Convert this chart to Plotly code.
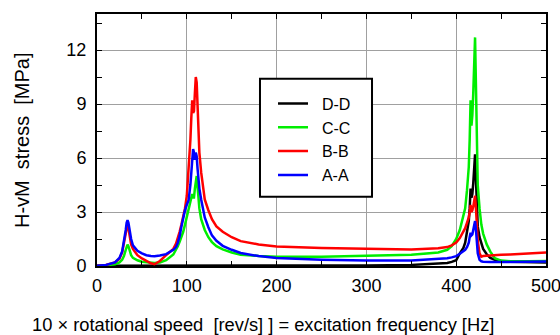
import plotly.graph_objects as go

# excitation frequency grid [Hz]
freq_hz = [0, 10, 20, 25, 28, 30, 32, 33, 34, 35,
           36, 38, 40, 45, 50, 55, 60, 64, 70, 77,
           85, 88, 90, 92, 94, 96, 98, 100, 102, 104,
           105, 106, 107, 108, 109, 110, 111, 112, 113, 114,
           116, 118, 120, 124, 128, 133, 140, 150, 160, 180,
           200, 250, 300, 350, 380, 390, 395, 400, 404, 408,
           410, 412, 414, 415, 416, 417, 418, 419, 420, 421,
           422, 423, 424, 426, 428, 430, 434, 438, 443, 450,
           460, 480, 500]

stress_dd = [0.01, 0.01, 0.01, 0.01, 0.02, 0.02, 0.02, 0.02, 0.02, 0.02,
             0.02, 0.02, 0.02, 0.01, 0.01, 0.01, 0.01, 0.01, 0.01, 0.01,
             0.01, 0.01, 0.02, 0.02, 0.02, 0.02, 0.02, 0.03, 0.03, 0.03,
             0.04, 0.04, 0.04, 0.04, 0.04, 0.05, 0.04, 0.04, 0.03, 0.03,
             0.03, 0.03, 0.02, 0.02, 0.02, 0.02, 0.02, 0.02, 0.02, 0.02,
             0.02, 0.02, 0.03, 0.06, 0.12, 0.17, 0.23, 0.32, 0.7, 1.0,
             1.3, 1.8, 2.5, 3.2, 4.3, 3.8, 4.0, 4.6, 5.3, 6.2,
             4.8, 3.3, 2.2, 1.6, 1.2, 0.95, 0.65, 0.45, 0.35, 0.28,
             0.24, 0.21, 0.2]

stress_cc = [0.01, 0.03, 0.1, 0.2, 0.35, 0.55, 0.9, 1.1, 1.19, 1.1,
             0.9, 0.6, 0.45, 0.32, 0.24, 0.2, 0.18, 0.17, 0.2, 0.32,
             0.64, 0.9, 1.1, 1.35, 1.6, 1.9, 2.3, 2.7, 3.1, 3.5,
             3.7, 4.0, 3.8, 3.8, 4.3, 4.8, 5.0, 4.4, 3.7, 3.2,
             2.6, 2.3, 2.0, 1.6, 1.33, 1.1, 0.92, 0.75, 0.63, 0.56,
             0.52, 0.52, 0.56, 0.62, 0.75, 0.9, 1.1, 1.5, 2.0, 2.7,
             3.2, 4.2, 5.5, 7.0, 9.2, 7.8, 8.4, 9.6, 11.5, 12.7,
             10.0, 7.0, 4.5, 3.2, 2.3, 1.8, 1.2, 0.8, 0.43, 0.3,
             0.27, 0.27, 0.28]

stress_bb = [0.02, 0.06, 0.2, 0.4, 0.75, 1.2, 1.8, 2.1, 2.25, 2.1,
             1.7, 1.2, 0.95, 0.6, 0.42, 0.28, 0.15, 0.1, 0.28, 0.6,
             0.95, 1.25, 1.55, 1.9, 2.3, 2.7, 3.2, 3.9, 5.3, 7.0,
             8.2, 9.2, 8.5, 8.6, 9.6, 10.5, 10.2, 8.6, 7.3, 6.3,
             5.2, 4.4, 3.7, 3.1, 2.6, 2.2, 1.9, 1.6, 1.38, 1.2,
             1.08, 1.0, 0.94, 0.92, 0.98, 1.05, 1.15, 1.3, 1.55, 1.9,
             2.1, 2.4, 2.7, 3.0, 3.4, 3.0, 3.1, 3.3, 3.6, 3.9,
             3.2, 2.2, 1.4, 0.7, 0.52, 0.55, 0.57, 0.58, 0.6, 0.62,
             0.64, 0.69, 0.75]

stress_aa = [0.02, 0.06, 0.2, 0.45, 0.8, 1.3, 2.0, 2.4, 2.54, 2.4,
             2.0, 1.5, 1.15, 0.85, 0.7, 0.6, 0.55, 0.54, 0.58, 0.66,
             0.9, 1.05, 1.3, 1.66, 2.2, 2.75, 3.1, 3.4, 3.65, 4.5,
             5.3, 6.0, 6.5, 6.3, 5.9, 6.3, 6.1, 5.4, 4.8, 4.3,
             3.7, 3.1, 2.7, 2.15, 1.7, 1.4, 1.12, 0.9, 0.72, 0.55,
             0.45, 0.35, 0.3, 0.3, 0.38, 0.43, 0.48, 0.55, 0.68, 0.8,
             0.9, 1.05, 1.3, 1.6, 1.85, 1.7, 1.75, 2.0, 2.3, 2.5,
             2.0, 1.2, 0.7, 0.35, 0.26, 0.24, 0.22, 0.22, 0.22, 0.22,
             0.22, 0.23, 0.25]

series_names = ["D-D", "C-C", "B-B", "A-A"]
series_values = [stress_dd, stress_cc, stress_bb, stress_aa]
series_colors = ["#000000", "#00ee00", "#ff0000", "#0000ff"]

x_ticks = [0, 100, 200, 300, 400, 500]
y_ticks = [0, 3, 6, 9, 12]

FONT = "Liberation Sans, Arial, sans-serif"
NB = "\u00a0"

fig = go.Figure()
for name, vals, col in zip(series_names, series_values, series_colors):
    fig.add_trace(go.Scatter(x=freq_hz, y=vals, mode="lines", name=NB * 2 + name,
                             line=dict(color=col, width=2.5)))

axis_common = dict(showline=True, linecolor="black", linewidth=2, mirror="ticks",
                   ticks="inside", ticklen=5, tickcolor="black", tickwidth=1,
                   showgrid=True, gridcolor="#a0a0a0", gridwidth=1, zeroline=False,
                   tickfont=dict(family=FONT, size=18, color="black"))

fig.update_xaxes(range=[0, 500], tickvals=x_ticks, ticklabelstandoff=2,
                 ticklabeloverflow="allow",
                 minor=dict(dtick=50, ticks="inside", ticklen=5, tickcolor="black", showgrid=False),
                 **axis_common)
fig.update_yaxes(range=[0, 14], tickvals=y_ticks, ticklabelstandoff=5,
                 minor=dict(dtick=1.5, ticks="inside", ticklen=5, tickcolor="black", showgrid=False),
                 **axis_common)

fig.add_annotation(text="H-vM" + NB * 2 + "stress" + NB * 2 + "[MPa]",
                   xref="paper", yref="paper", x=-0.167, y=0.5, textangle=-90,
                   xanchor="center", yanchor="middle", showarrow=False,
                   font=dict(family=FONT, size=20, color="black"))

fig.add_annotation(text="10 \u00d7 rotational speed" + NB * 2 + "[rev/s] ] = excitation frequency [Hz]",
                   xref="paper", yref="paper", x=0.369, y=-0.232, xanchor="center", yanchor="middle",
                   showarrow=False, font=dict(family=FONT, size=18.3, color="black"))

# legend frame
fig.add_shape(type="rect", xref="paper", yref="paper", x0=0.363, x1=0.6125, y0=0.2752, y1=0.7426,
              line=dict(color="black", width=2), fillcolor="white", layer="above")

fig.update_layout(
    width=560, height=335,
    margin=dict(l=97, r=14, t=14, b=68.5, autoexpand=False),
    plot_bgcolor="white", paper_bgcolor="white",
    legend=dict(x=0.392, y=0.712, xanchor="left", yanchor="top",
                borderwidth=0, bgcolor="rgba(0,0,0,0)",
                font=dict(family=FONT, size=16, color="black"),
                itemwidth=30, tracegroupgap=0),
)

fig.write_html("out.html", config={"displayModeBar": False},
               post_script="document.body.style.margin='0';document.body.style.overflow='hidden';")
